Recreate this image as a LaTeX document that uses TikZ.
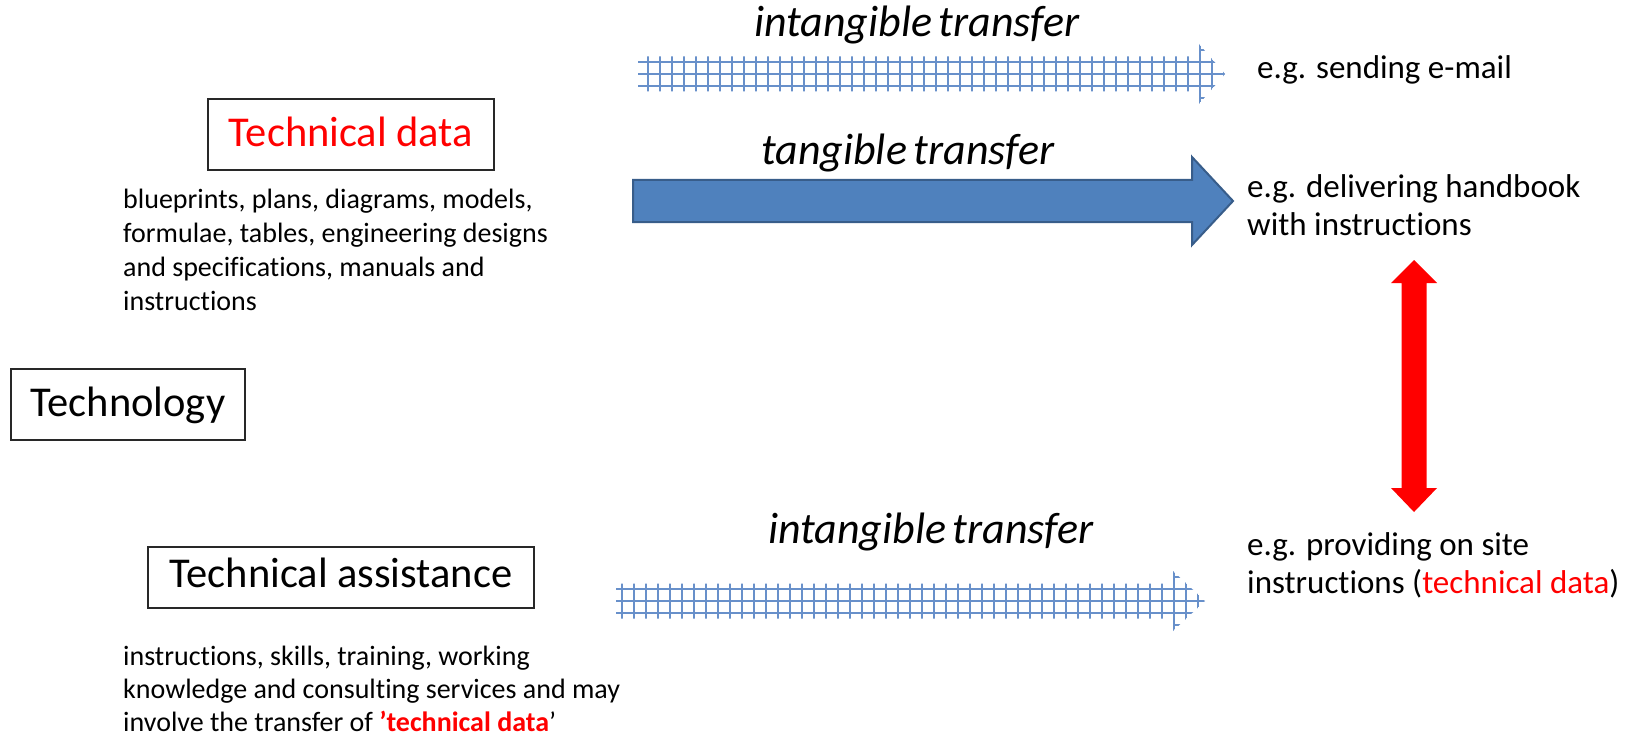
\documentclass[tikz,border=0pt]{standalone}
\usepackage{fontspec}
\setmainfont{Carlito}[Ligatures={TeX,NoCommon}]
\definecolor{gridblue}{RGB}{104,144,202}
\definecolor{arrowfill}{RGB}{79,129,189}
\definecolor{arrowedge}{RGB}{56,93,138}
\definecolor{boxedge}{RGB}{40,40,40}
\definecolor{hotred}{RGB}{255,0,0}

\tikzset{
  box/.style={draw=boxedge, line width=1.4pt, inner sep=0pt, anchor=base,
    font=\fontsize{42.5}{50}\selectfont},
  desc/.style={anchor=base west, inner sep=0pt, font=\fontsize{28}{34}\selectfont},
  note/.style={anchor=base west, inner sep=0pt, font=\fontsize{33}{40}\selectfont},
  mode/.style={anchor=base, inner sep=0pt, font=\fontsize{44}{50}\selectfont\itshape},
  gridline/.style={draw=gridblue, line width=1.4pt},
  blockarrow/.style={fill=arrowfill, draw=arrowedge, line width=2pt, line join=miter},
}

% grid-patterned block arrow: #1 tail x, #2 head base x, #3 tip x, #4 axis y
\newcommand\gridarrow[4]{%
  \begin{scope}
    \clip (#1,#4-17.5) -- (#2,#4-17.5) -- (#2,#4-30) -- (#3,#4)
      -- (#2,#4+30) -- (#2,#4+17.5) -- (#1,#4+17.5) -- cycle;
    \foreach \k in {-2,...,2}
      \draw[gridline] (#1-5,#4+12*\k) -- (#3+5,#4+12*\k);
    \foreach \k in {-48,...,3}
      \draw[gridline] (#2+1+12*\k,#4-35) -- (#2+1+12*\k,#4+35);
  \end{scope}}

% tight word gap used in the italic labels
\newcommand\tightgap{\hspace{0.15em}}

\begin{document}
\begin{tikzpicture}[x=1pt,y=-1pt]
  \fill[white] (0,0) rectangle (1632,738);
  \useasboundingbox (0,0) rectangle (1632,738);

  % boxed headings
  \node[box, text=hotred, minimum width=286, minimum height=71,
        text height=30, text depth=5] (techdata) at (351,147) {Technical data};
  \node[box, minimum width=234, minimum height=71,
        text height=30, text depth=7] (technology) at (128,416) {Technology};
  \node[box, minimum width=386, minimum height=61,
        text height=28, text depth=9] (assist) at (341,587) {Technical assistance};

  % description under "Technical data"
  \node[desc] (d1) at (123,208) {blueprints, plans, diagrams, models,};
  \node[desc] (d2) at (123,242) {formulae, tables, engineering designs};
  \node[desc] (d3) at (123,276) {and specifications, manuals and};
  \node[desc] (d4) at (123,310) {instructions};

  % description under "Technical assistance"
  \node[desc] (a1) at (123,665) {instructions, skills, training, working};
  \node[desc] (a2) at (123,698) {knowledge and consulting services and may};
  \node[desc] (a3) at (123,731) {involve the transfer of {\color{hotred}\bfseries ’technical data}’};

  % transfer modes
  \node[mode] (m1) at (917,37) {intangible\tightgap transfer};
  \node[mode] (m2) at (908,165) {tangible\tightgap transfer};
  \node[mode] (m3) at (931,543) {intangible\tightgap transfer};

  \gridarrow{638}{1199}{1225}{74}
  \draw[blockarrow] (633,180) -- (1192,180) -- (1192,157) -- (1233,201)
    -- (1192,245) -- (1192,222) -- (633,222) -- cycle;
  \gridarrow{616}{1173}{1205}{601}

  % examples
  \node[note] (e1) at (1257,79) {e.g. sending e-mail};
  \node[note] (e2) at (1247,197) {e.g. delivering handbook};
  \node[note] (e3) at (1247,235) {with instructions};
  \node[note] (e4) at (1247,555) {e.g. providing on site};
  \node[note] (e5) at (1247,593) {instructions ({\color{hotred}technical data})};

  % double-headed link between the two examples
  \fill[hotred] (1414,260) -- (1437,283) -- (1426.5,283) -- (1426.5,488)
    -- (1437,488) -- (1414,512) -- (1391,488) -- (1401.5,488)
    -- (1401.5,283) -- (1391,283) -- cycle;
\end{tikzpicture}
\end{document}
